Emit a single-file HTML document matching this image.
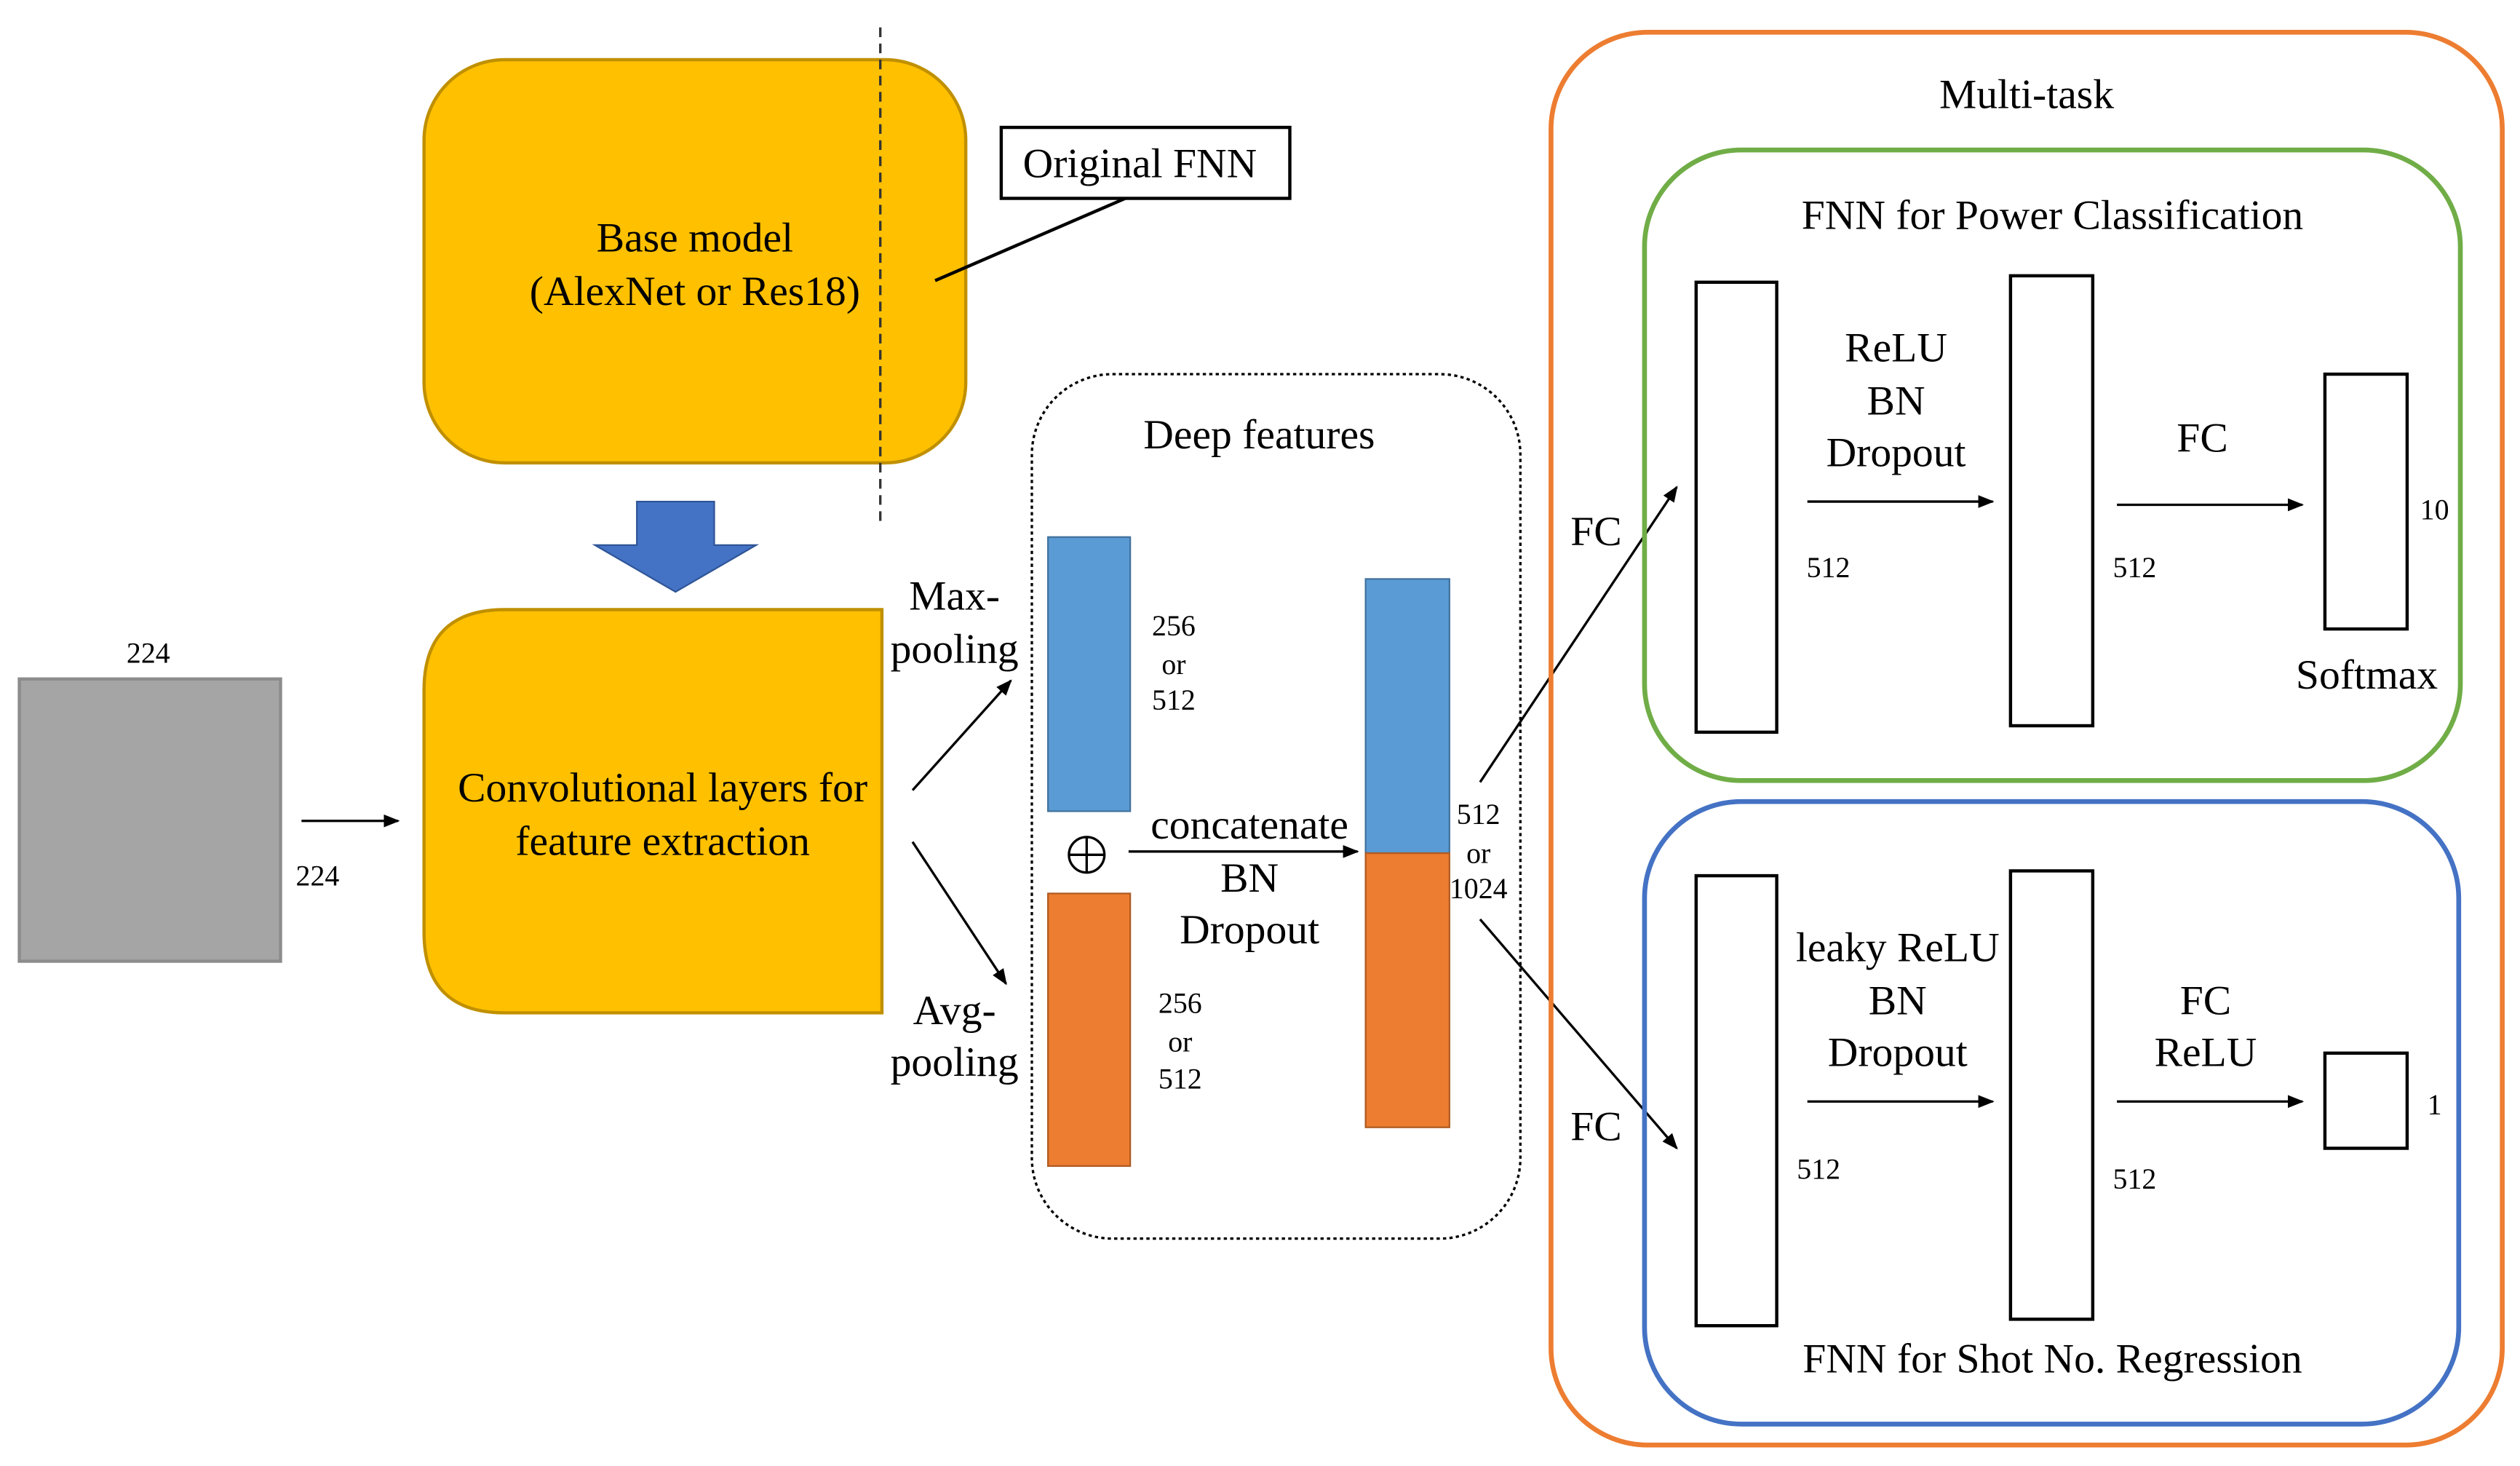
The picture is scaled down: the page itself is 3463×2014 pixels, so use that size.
<!DOCTYPE html>
<html><head><meta charset="utf-8">
<style>
html,body{margin:0;padding:0;background:#fff;}
svg{display:block;}
text{font-family:"Liberation Serif",serif;fill:#000;}
.b{font-size:26px;}
.s{font-size:18px;}
</style></head>
<body>
<svg width="3463" height="2014" viewBox="0 0 1563 909" preserveAspectRatio="none" xmlns="http://www.w3.org/2000/svg">
<defs>
<marker id="a" markerWidth="10" markerHeight="8" refX="9" refY="4" orient="auto" markerUnits="userSpaceOnUse">
<path d="M0,0 L10,4 L0,8 z" fill="#000"/>
</marker>
</defs>
<rect x="0" y="0" width="1563" height="909" fill="#fff"/>

<rect x="12" y="421" width="162" height="175" fill="#a5a5a5" stroke="#8c8c8c" stroke-width="2"/>
<text class="s" x="92" y="411" text-anchor="middle">224</text>
<text class="s" x="197" y="549" text-anchor="middle">224</text>
<line x1="187" y1="509" x2="247" y2="509" stroke="#000" stroke-width="1.5" marker-end="url(#a)"/>

<rect x="263" y="37" width="336" height="250" rx="50" fill="#ffc000" stroke="#c09000" stroke-width="2"/>
<text class="b" x="431" y="156" text-anchor="middle">Base model</text>
<text class="b" x="431" y="189" text-anchor="middle">(AlexNet or Res18)</text>
<line x1="546" y1="17" x2="546" y2="325" stroke="#333" stroke-width="1.5" stroke-dasharray="6,4"/>
<rect x="621" y="79" width="179" height="44" fill="#fff" stroke="#000" stroke-width="2"/>
<text class="b" x="707" y="110" text-anchor="middle">Original FNN</text>
<line x1="580" y1="174" x2="698" y2="123" stroke="#000" stroke-width="2"/>

<path d="M395,311 L443,311 L443,338 L469,338 L419,367 L369,338 L395,338 Z" fill="#4472c4" stroke="#2f5597" stroke-width="1"/>

<path d="M313,378 L547,378 L547,628 L313,628 Q263,628 263,578 L263,428 Q263,378 313,378 Z" fill="#ffc000" stroke="#c09000" stroke-width="2"/>
<text class="b" x="411" y="497" text-anchor="middle">Convolutional layers for</text>
<text class="b" x="411" y="530" text-anchor="middle">feature extraction</text>

<line x1="566" y1="490" x2="627" y2="422" stroke="#000" stroke-width="1.5" marker-end="url(#a)"/>
<line x1="566" y1="522" x2="624" y2="610" stroke="#000" stroke-width="1.5" marker-end="url(#a)"/>
<text class="b" x="592" y="378" text-anchor="middle">Max-</text>
<text class="b" x="592" y="411" text-anchor="middle">pooling</text>
<text class="b" x="592" y="635" text-anchor="middle">Avg-</text>
<text class="b" x="592" y="667" text-anchor="middle">pooling</text>

<rect x="640" y="232" width="303" height="536" rx="50" fill="none" stroke="#000" stroke-width="1.5" stroke-dasharray="2,2"/>
<text class="b" x="781" y="278" text-anchor="middle">Deep features</text>
<rect x="650" y="333" width="51" height="170" fill="#5b9bd5" stroke="#41719c" stroke-width="1"/>
<rect x="650" y="554" width="51" height="169" fill="#ed7d31" stroke="#ae5a21" stroke-width="1"/>
<text class="s" x="728" y="394" text-anchor="middle">256</text>
<text class="s" x="728" y="418" text-anchor="middle">or</text>
<text class="s" x="728" y="440" text-anchor="middle">512</text>
<text class="s" x="732" y="628" text-anchor="middle">256</text>
<text class="s" x="732" y="652" text-anchor="middle">or</text>
<text class="s" x="732" y="675" text-anchor="middle">512</text>
<circle cx="674" cy="530" r="11" fill="none" stroke="#000" stroke-width="1.5"/>
<line x1="663" y1="530" x2="685" y2="530" stroke="#000" stroke-width="1.5"/>
<line x1="674" y1="519" x2="674" y2="541" stroke="#000" stroke-width="1.5"/>
<line x1="700" y1="528" x2="842" y2="528" stroke="#000" stroke-width="1.5" marker-end="url(#a)"/>
<text class="b" x="775" y="520" text-anchor="middle">concatenate</text>
<text class="b" x="775" y="553" text-anchor="middle">BN</text>
<text class="b" x="775" y="585" text-anchor="middle">Dropout</text>
<rect x="847" y="359" width="52" height="170" fill="#5b9bd5" stroke="#41719c" stroke-width="1"/>
<rect x="847" y="529" width="52" height="170" fill="#ed7d31" stroke="#ae5a21" stroke-width="1"/>
<text class="s" x="917" y="511" text-anchor="middle">512</text>
<text class="s" x="917" y="535" text-anchor="middle">or</text>
<text class="s" x="917" y="557" text-anchor="middle">1024</text>

<line x1="918" y1="485" x2="1040" y2="302" stroke="#000" stroke-width="1.5" marker-end="url(#a)"/>
<line x1="918" y1="570" x2="1040" y2="712" stroke="#000" stroke-width="1.5" marker-end="url(#a)"/>
<text class="b" x="990" y="338" text-anchor="middle">FC</text>
<text class="b" x="990" y="707" text-anchor="middle">FC</text>

<rect x="962" y="20" width="590" height="876" rx="60" fill="none" stroke="#ed7d31" stroke-width="3"/>
<text class="b" x="1257" y="67" text-anchor="middle">Multi-task</text>

<rect x="1020" y="93" width="506" height="391" rx="60" fill="none" stroke="#70ad47" stroke-width="3"/>
<text class="b" x="1273" y="142" text-anchor="middle">FNN for Power Classification</text>
<rect x="1052" y="175" width="50" height="279" fill="#fff" stroke="#000" stroke-width="2"/>
<rect x="1247" y="171" width="51" height="279" fill="#fff" stroke="#000" stroke-width="2"/>
<rect x="1442" y="232" width="51" height="158" fill="#fff" stroke="#000" stroke-width="2"/>
<text class="b" x="1176" y="224" text-anchor="middle">ReLU</text>
<text class="b" x="1176" y="257" text-anchor="middle">BN</text>
<text class="b" x="1176" y="289" text-anchor="middle">Dropout</text>
<line x1="1121" y1="311" x2="1236" y2="311" stroke="#000" stroke-width="1.5" marker-end="url(#a)"/>
<text class="s" x="1134" y="358" text-anchor="middle">512</text>
<text class="s" x="1324" y="358" text-anchor="middle">512</text>
<text class="b" x="1366" y="280" text-anchor="middle">FC</text>
<line x1="1313" y1="313" x2="1428" y2="313" stroke="#000" stroke-width="1.5" marker-end="url(#a)"/>
<text class="s" x="1510" y="322" text-anchor="middle">10</text>
<text class="b" x="1468" y="427" text-anchor="middle">Softmax</text>

<rect x="1020" y="497" width="505" height="386" rx="60" fill="none" stroke="#4472c4" stroke-width="3"/>
<rect x="1052" y="543" width="50" height="279" fill="#fff" stroke="#000" stroke-width="2"/>
<rect x="1247" y="540" width="51" height="278" fill="#fff" stroke="#000" stroke-width="2"/>
<rect x="1442" y="653" width="51" height="59" fill="#fff" stroke="#000" stroke-width="2"/>
<text class="b" x="1177" y="596" text-anchor="middle">leaky ReLU</text>
<text class="b" x="1177" y="629" text-anchor="middle">BN</text>
<text class="b" x="1177" y="661" text-anchor="middle">Dropout</text>
<line x1="1121" y1="683" x2="1236" y2="683" stroke="#000" stroke-width="1.5" marker-end="url(#a)"/>
<text class="s" x="1128" y="731" text-anchor="middle">512</text>
<text class="s" x="1324" y="737" text-anchor="middle">512</text>
<text class="b" x="1368" y="629" text-anchor="middle">FC</text>
<text class="b" x="1368" y="661" text-anchor="middle">ReLU</text>
<line x1="1313" y1="683" x2="1428" y2="683" stroke="#000" stroke-width="1.5" marker-end="url(#a)"/>
<text class="s" x="1510" y="691" text-anchor="middle">1</text>
<text class="b" x="1273" y="851" text-anchor="middle">FNN for Shot No. Regression</text>
</svg>
</body></html>
